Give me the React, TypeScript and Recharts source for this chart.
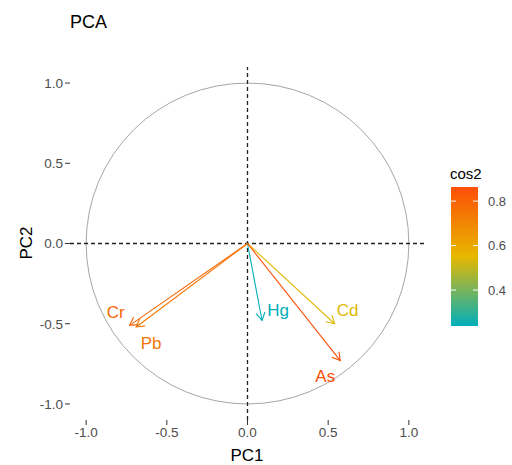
import { ScatterChart, Scatter, XAxis, YAxis, ReferenceLine, ReferenceArea } from "recharts";

// variable coordinates on the first two components
const variables = ["Cr", "Pb", "Hg", "Cd", "As"];
const pc1 = [-0.73, -0.69, 0.09, 0.54, 0.575];
const pc2 = [-0.51, -0.52, -0.48, -0.5, -0.73];
const axisTicks = [-1, -0.5, 0, 0.5, 1];
const legendTicks = [0.4, 0.6, 0.8];
const gradientCols = ["#00AFBB", "#E7B800", "#FC4E07"];

// label nudges in px (dx, dy) from arrow tip
const labelNudge: Record<string, [number, number]> = {
  Cr: [-14, -13],
  Pb: [15, 17],
  Hg: [16, -10],
  Cd: [13, -13],
  As: [-15, 16],
};

const cos2 = pc1.map((v, i) => v * v + pc2[i] * pc2[i]);
const cMin = Math.min(...cos2);
const cMax = Math.max(...cos2);

const hex = (c: string) => [1, 3, 5].map((i) => parseInt(c.slice(i, i + 2), 16));
function colorAt(t: number) {
  const s = Math.max(0, Math.min(1, t)) * (gradientCols.length - 1);
  const i = Math.min(Math.floor(s), gradientCols.length - 2);
  const f = s - i;
  const a = hex(gradientCols[i]);
  const b = hex(gradientCols[i + 1]);
  const m = a.map((v, k) => Math.round(v + (b[k] - v) * f));
  return `rgb(${m[0]},${m[1]},${m[2]})`;
}
const colorFor = (v: number) => colorAt((v - cMin) / (cMax - cMin));

const points = variables.map((name, i) => ({
  name,
  x: pc1[i],
  y: pc2[i],
  color: colorFor(cos2[i]),
}));

const FONT = "'Liberation Sans', Arial, sans-serif";

function makeArrow(color: string) {
  return (props: any) => {
    const { x1, y1, x2, y2 } = props;
    const ang = Math.atan2(y2 - y1, x2 - x1);
    const len = 9;
    const spread = Math.PI / 6;
    const ax = x2 - len * Math.cos(ang - spread);
    const ay = y2 - len * Math.sin(ang - spread);
    const bx = x2 - len * Math.cos(ang + spread);
    const by = y2 - len * Math.sin(ang + spread);
    return (
      <g>
        <line x1={x1} y1={y1} x2={x2} y2={y2} stroke={color} strokeWidth={1.1} />
        <polyline
          points={`${ax},${ay} ${x2},${y2} ${bx},${by}`}
          fill="none"
          stroke={color}
          strokeWidth={1.1}
        />
      </g>
    );
  };
}

const LabelShape = (props: any) => {
  const { cx, cy, payload } = props;
  const [dx, dy] = labelNudge[payload.name] || [0, 0];
  return (
    <text
      x={cx + dx}
      y={cy + dy}
      textAnchor="middle"
      dominantBaseline="central"
      fill={payload.color}
      fontSize={17}
      fontFamily={FONT}
    >
      {payload.name}
    </text>
  );
};

const CircleShape = (props: any) => {
  const { x, y, width, height } = props;
  return (
    <ellipse
      cx={x + width / 2}
      cy={y + height / 2}
      rx={width / 2}
      ry={height / 2}
      fill="none"
      stroke="#a6a6a6"
      strokeWidth={1}
    />
  );
};

// colour bar geometry
const barX = 451;
const barY = 187;
const barW = 27;
const barH = 139;
const barPos = (v: number) => barY + barH - ((v - cMin) / (cMax - cMin)) * barH;

export default function App() {
  const tickStyle = { fill: "#4d4d4d", fontSize: 13.5, fontFamily: FONT };
  return (
    <div style={{ position: "absolute", left: 0, top: 0, width: 512, height: 465, background: "#fff" }}>
      <ScatterChart width={512} height={465} margin={{ top: 67, right: 87, bottom: 15, left: 0 }}>
        <XAxis
          type="number"
          dataKey="x"
          domain={[-1.1, 1.1]}
          ticks={axisTicks}
          tickFormatter={(v: number) => v.toFixed(1)}
          axisLine={false}
          tickLine={{ stroke: "#333" }}
          tickSize={5}
          tickMargin={2}
          height={30}
          tick={tickStyle}
          allowDataOverflow
        />
        <YAxis
          type="number"
          dataKey="y"
          domain={[-1.1, 1.1]}
          ticks={axisTicks}
          tickFormatter={(v: number) => v.toFixed(1)}
          axisLine={false}
          tickLine={{ stroke: "#333" }}
          tickSize={5}
          tickMargin={2}
          width={70}
          tick={tickStyle}
          allowDataOverflow
        />
        <ReferenceArea x1={-1} x2={1} y1={-1} y2={1} shape={CircleShape} />
        <ReferenceLine x={0} stroke="#222" strokeWidth={1.3} strokeDasharray="4 3" />
        <ReferenceLine y={0} stroke="#222" strokeWidth={1.3} strokeDasharray="4 3" />
        {points.map((p) => (
          <ReferenceLine
            key={p.name}
            segment={[
              { x: 0, y: 0 },
              { x: p.x, y: p.y },
            ]}
            shape={makeArrow(p.color)}
          />
        ))}
        <Scatter data={points} shape={LabelShape} isAnimationActive={false} />
      </ScatterChart>
      <svg
        width={512}
        height={465}
        style={{ position: "absolute", left: 0, top: 0, pointerEvents: "none" }}
      >
        <defs>
          <linearGradient id="cosbar" x1="0" y1="1" x2="0" y2="0">
            {[0, 0.25, 0.5, 0.75, 1].map((t) => (
              <stop key={t} offset={t} stopColor={colorAt(t)} />
            ))}
          </linearGradient>
        </defs>
        <text x={70} y={28} fontSize={18} fontFamily={FONT} fill="#000">
          PCA
        </text>
        <text x={247} y={461} textAnchor="middle" fontSize={17} fontFamily={FONT} fill="#000">
          PC1
        </text>
        <text
          x={32}
          y={243}
          textAnchor="middle"
          fontSize={17}
          fontFamily={FONT}
          fill="#000"
          transform="rotate(-90 32 243)"
        >
          PC2
        </text>
        <text x={450} y={179} fontSize={15} fontFamily={FONT} fill="#000">
          cos2
        </text>
        <rect x={barX} y={barY} width={barW} height={barH} fill="url(#cosbar)" />
        {legendTicks.map((t) => (
          <g key={t}>
            <line x1={barX} x2={barX + 5} y1={barPos(t)} y2={barPos(t)} stroke="#fff" />
            <line x1={barX + barW - 5} x2={barX + barW} y1={barPos(t)} y2={barPos(t)} stroke="#fff" />
            <text
              x={488}
              y={barPos(t)}
              dominantBaseline="central"
              fontSize={13}
              fontFamily={FONT}
              fill="#4d4d4d"
            >
              {t.toFixed(1)}
            </text>
          </g>
        ))}
      </svg>
    </div>
  );
}
